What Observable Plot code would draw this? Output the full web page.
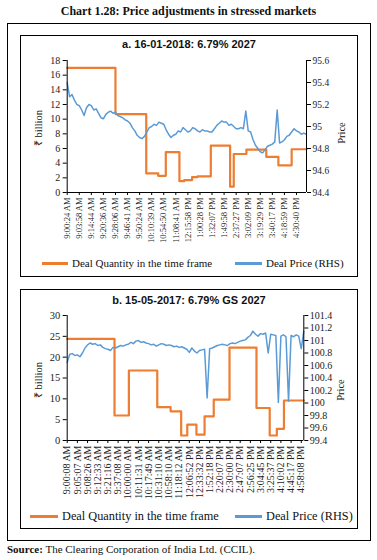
<!DOCTYPE html>
<html>
<head>
<meta charset="utf-8">
<script src="https://cdn.jsdelivr.net/npm/d3@7"></script>
<script src="https://cdn.jsdelivr.net/npm/@observablehq/plot@0.6"></script>
<style>
  html, body { margin: 0; padding: 0; background: #fff; }
  #root { position: relative; width: 377px; height: 560px; background: #fff; overflow: hidden; font-family: "Liberation Serif", serif; color: #111; }
  .abs { position: absolute; }
  .title { left: 0; width: 377px; top: 4px; text-align: center; font-weight: bold; font-size: 12px; line-height: 14px; }
  .box { position: absolute; border: 1.2px solid #000; box-sizing: border-box; }
  .ptitle { position: absolute; left: 20px; width: 338px; text-align: center; font-family: "Liberation Sans", sans-serif; font-weight: bold; font-size: 11px; line-height: 13px; }
  .ylab { position: absolute; transform: translate(-50%, -50%) rotate(-90deg); white-space: nowrap; font-size: 10.5px; line-height: 12px; }
  .leg { position: absolute; white-space: nowrap; line-height: 14px; }
  .sw { display: inline-block; height: 3px; vertical-align: middle; margin-right: 4px; position: relative; top: -1px; }
  .src { position: absolute; left: 7px; top: 543px; font-size: 11px; line-height: 13px; white-space: nowrap; }
  svg { position: absolute; overflow: visible; }
</style>
</head>
<body>
<div id="root">
  <div class="abs title">Chart 1.28: Price adjustments in stressed markets</div>
  <div class="box" style="left:7px;top:23px;width:364px;height:518px;"></div>
  <div class="box" style="left:20px;top:35px;width:338px;height:242px;"></div>
  <div class="box" style="left:20px;top:289px;width:338px;height:240px;"></div>
  <div class="ptitle" style="top:38px;">a. 16-01-2018: 6.79% 2027</div>
  <div class="ptitle" style="top:294px;">b. 15-05-2017: 6.79% GS 2027</div>
  <div class="ylab" style="left:39px;top:128px;">₹ billion</div>
  <div class="ylab" style="left:342px;top:133px;">Price</div>
  <div class="ylab" style="left:39px;top:380px;">₹ billion</div>
  <div class="ylab" style="left:341px;top:390px;">Price</div>
  <div id="chartA"></div>
  <div id="chartB"></div>
  <div class="leg" style="left:42px;top:256px;font-size:11px;"><span class="sw" style="width:26px;background:#ED7D31"></span>Deal Quantity in the time frame</div>
  <div class="leg" style="left:235px;top:256px;font-size:11px;"><span class="sw" style="width:27px;background:#5B9BD5"></span>Deal Price (RHS)</div>
  <div class="leg" style="left:30px;top:509px;font-size:12.3px;"><span class="sw" style="width:28px;background:#ED7D31"></span>Deal Quantity in the time frame</div>
  <div class="leg" style="left:235px;top:509px;font-size:12.3px;"><span class="sw" style="width:27px;background:#5B9BD5"></span>Deal Price (RHS)</div>
  <div class="src"><b>Source:</b> The Clearing Corporation of India Ltd. (CCIL).</div>
</div>
<script>
// ---------- Panel a: 16-01-2018 ----------
const labelsA = ["9:00:24 AM","9:03:58 AM","9:14:44 AM","9:20:36 AM","9:28:06 AM","9:46:41 AM","9:50:24 AM","10:10:39 AM","10:54:50 AM","11:08:41 AM","12:15:58 PM","1:00:28 PM","1:32:07 PM","1:49:58 PM","2:37:27 PM","3:02:09 PM","3:19:29 PM","3:40:17 PM","4:18:59 PM","4:30:40 PM"];
// deal quantity steps (position in label units, ₹ billion)
const qtyAPos = [0, 4.0, 6.55, 7.54, 8.17, 9.3, 9.7, 10.35, 10.8, 11.9, 13.5, 13.8, 14.85, 16.5, 17.5, 18.6, 19.83];
const qtyAVal = [17.0, 10.7, 2.6, 2.27, 5.5, 1.55, 1.7, 2.1, 2.2, 6.4, 0.8, 5.25, 5.85, 4.85, 3.7, 5.9, 5.9];
// deal price, sampled every 0.2 label units
const priceAStep = 0.2;
const priceA = [95.40,95.27,95.29,95.24,95.20,95.19,95.15,95.10,95.17,95.20,
                95.19,95.15,95.16,95.12,95.08,95.07,95.11,95.13,95.14,95.12,
                95.13,95.10,95.09,95.08,95.06,95.05,95.03,94.99,94.96,94.92,
                94.90,94.89,94.91,94.95,94.99,95.00,95.02,95.01,95.04,95.03,
                95.02,94.97,94.93,94.90,94.92,94.93,94.96,94.95,94.99,94.97,
                94.95,94.96,94.99,94.98,94.96,94.95,94.97,94.96,94.96,94.95,
                94.95,94.98,95.01,95.03,95.05,95.04,95.04,95.01,95.02,95.00,
                94.98,94.98,94.99,94.98,95.14,94.96,94.95,94.88,94.83,94.80,
                94.77,94.76,94.79,94.82,94.83,94.84,94.86,95.15,94.85,94.86,
                94.88,94.91,94.92,94.95,94.98,94.96,94.95,94.93,94.94,94.93];
const qDomainA = [0, 18];
const qTicksA = [0,2,4,6,8,10,12,14,16,18];
const pDomainA = [94.4, 95.6];
const pTicksA = [94.4,94.6,94.8,95.0,95.2,95.4,95.6];
const xMaxA = 19.83;

// ---------- Panel b: 15-05-2017 ----------
const labelsB = ["9:00:08 AM","9:05:07 AM","9:08:26 AM","9:12:33 AM","9:21:16 AM","9:37:08 AM","10:00:00 AM","10:11:31 AM","10:17:49 AM","10:31:10 AM","10:58:10 AM","11:18:12 AM","12:06:52 PM","12:33:32 PM","1:52:18 PM","2:20:07 PM","2:30:00 PM","2:47:07 PM","2:56:25 PM","3:04:45 PM","3:25:37 PM","4:10:02 PM","4:45:17 PM","4:58:08 PM"];
const qtyBPos = [0, 4.65, 6.06, 8.85, 10.16, 11.2, 11.8, 12.7, 13.5, 14.4, 15.95, 18.6, 19.9, 20.6, 21.3, 23.25];
const qtyBVal = [24.4, 6.0, 16.8, 8.0, 7.0, 1.2, 3.8, 1.4, 5.8, 9.8, 22.3, 7.8, 1.2, 2.8, 9.6, 9.6];
const priceBStep = 0.25;
const priceB = [100.65,100.78,100.79,100.76,100.77,100.74,100.80,100.88,100.93,100.96,
                100.94,100.95,100.92,100.93,100.89,100.87,100.86,100.84,100.89,100.88,
                100.90,100.92,100.91,100.93,100.94,100.97,100.95,100.99,101.00,100.97,
                100.98,100.96,100.95,100.93,100.94,100.91,100.93,100.95,100.94,100.92,
                100.93,100.92,100.90,100.91,100.89,100.90,100.88,100.86,100.81,100.88,
                100.83,100.80,100.84,100.85,100.86,100.08,100.87,100.88,100.90,100.92,
                100.93,100.94,100.93,100.92,100.95,100.96,100.95,100.97,100.99,101.00,
                101.01,101.05,101.08,101.15,101.10,101.07,101.11,101.10,101.12,100.80,
                101.10,101.09,101.08,100.01,101.07,101.09,101.06,100.03,101.08,101.06,
                101.09,101.07,100.87,101.15];
const qDomainB = [0, 30];
const qTicksB = [0,5,10,15,20,25,30];
const pDomainB = [99.4, 101.4];
const pTicksB = [99.4,99.6,99.8,100.0,100.2,100.4,100.6,100.8,101.0,101.2,101.4];
const xMaxB = 23.25;

const ORANGE = "#ED7D31", BLUE = "#5B9BD5";
const fmtP = p => String(Math.round(p * 10) / 10);

function panel(cfg) {
  const toQ = d3.scaleLinear().domain(cfg.pDomain).range(cfg.qDomain);
  const qty = cfg.qPos.map((x, i) => ({x, q: cfg.qVal[i]}));
  const price = cfg.price.map((p, i) => ({x: i * cfg.pStep, p}));
  const svg = Plot.plot({
    width: 338,
    height: cfg.height,
    marginTop: cfg.mt, marginBottom: cfg.mb, marginLeft: cfg.ml, marginRight: cfg.mr,
    x: {domain: [0, cfg.xMax], axis: null},
    y: {domain: cfg.qDomain, axis: null},
    style: {fontFamily: "Liberation Serif, serif", color: "#222", background: "transparent", overflow: "visible"},
    marks: [
      Plot.line(qty, {x: "x", y: "q", curve: "step-after", stroke: ORANGE, strokeWidth: 2.2}),
      Plot.line(price, {x: "x", y: d => toQ(d.p), stroke: BLUE, strokeWidth: 1.5}),
      Plot.ruleX([0], {stroke: "#000", strokeWidth: 1}),
      Plot.ruleX([cfg.xMax], {stroke: "#000", strokeWidth: 1}),
      Plot.ruleY([cfg.qDomain[0]], {stroke: "#000", strokeWidth: 1}),
      Plot.axisY(cfg.qTicks, {anchor: "left", tickSize: 4, tickPadding: 3, fontSize: cfg.fsL, label: null, stroke: "#000"}),
      Plot.axisY(cfg.pTicks.map(toQ), {anchor: "right", tickSize: 4, tickPadding: 2, fontSize: cfg.fsR, label: null, stroke: "#000",
        tickFormat: d => fmtP(toQ.invert(d))}),
      Plot.axisX(d3.range(cfg.labels.length), {anchor: "bottom", tickSize: 3, tickPadding: 2, tickRotate: -90, fontSize: cfg.fsX, label: null, stroke: "#000",
        tickFormat: i => cfg.labels[i]})
    ]
  });
  svg.style.left = "20px";
  svg.style.top = cfg.top + "px";
  return svg;
}

document.getElementById("chartA").appendChild(panel({
  labels: labelsA, qPos: qtyAPos, qVal: qtyAVal, price: priceA, pStep: priceAStep,
  qDomain: qDomainA, qTicks: qTicksA, pDomain: pDomainA, pTicks: pTicksA, xMax: xMaxA,
  top: 52, height: 198, mt: 8, mb: 58, ml: 46.7, mr: 52, fsL: 10, fsR: 9.5, fsX: 8.5
}));
document.getElementById("chartB").appendChild(panel({
  labels: labelsB, qPos: qtyBPos, qVal: qtyBVal, price: priceB, pStep: priceBStep,
  qDomain: qDomainB, qTicks: qTicksB, pDomain: pDomainB, pTicks: pTicksB, xMax: xMaxB,
  top: 307, height: 195, mt: 8, mb: 62, ml: 46.7, mr: 54.7, fsL: 10.5, fsR: 10, fsX: 10
}));
</script>
</body>
</html>
